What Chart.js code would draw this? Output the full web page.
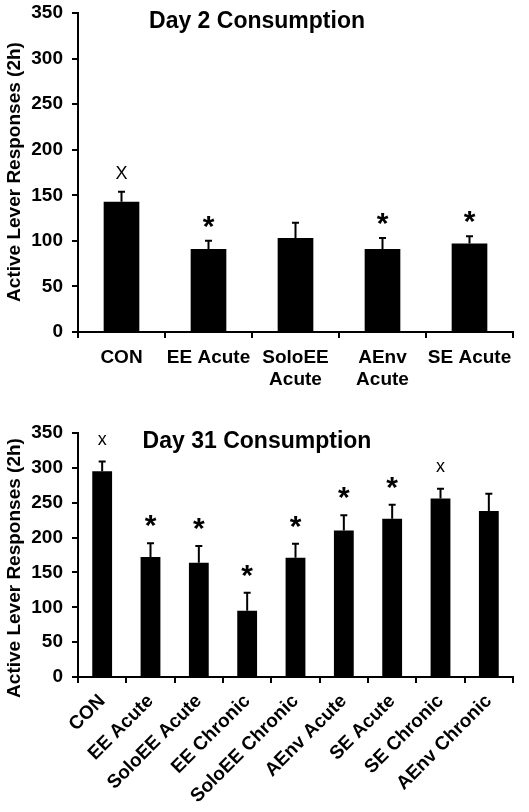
<!DOCTYPE html>
<html><head><meta charset="utf-8">
<script src="https://cdn.jsdelivr.net/npm/chart.js@4.4.0/dist/chart.umd.min.js"></script>
<style>
html,body{margin:0;padding:0;background:#fff;}
body{width:529px;height:812px;position:relative;overflow:hidden;}
#c1{position:absolute;left:0;top:0;}
#c2{position:absolute;left:0;top:390px;}
</style></head><body>
<canvas id="c1" width="529" height="390" style="width:529px;height:390px"></canvas>
<canvas id="c2" width="529" height="422" style="width:529px;height:422px"></canvas>
<script>
// ---- Data ----
const yTickValues = [0, 50, 100, 150, 200, 250, 300, 350];
const yAxisTitle = 'Active Lever Responses (2h)';

const day2Title = 'Day 2 Consumption';
const day2Categories = [['CON'], ['EE Acute'], ['SoloEE', 'Acute'], ['AEnv', 'Acute'], ['SE Acute']];
const day2Means = [143, 91, 103, 91, 97];
const day2Errors = [11, 9, 17, 12, 8];
const day2Marks = ['X', '*', '', '*', '*'];

const day31Title = 'Day 31 Consumption';
const day31Categories = ['CON', 'EE Acute', 'SoloEE Acute', 'EE Chronic', 'SoloEE Chronic', 'AEnv Acute', 'SE Acute', 'SE Chronic', 'AEnv Chronic'];
const day31Means = [295, 172, 164, 95, 171, 210, 227, 256, 238];
const day31Errors = [14, 20, 24, 26, 20, 22, 20, 14, 25];
const day31Marks = ['x', '*', '*', '*', '*', '*', '*', 'x', ''];

// ---- Rendering ----
const FAMILY = '"Liberation Sans", Arial, Helvetica, sans-serif';
Chart.defaults.font.family = FAMILY;
Chart.defaults.color = '#000';

function annotPlugin(means, errs, marks, opts) {
  return {
    id: 'annot',
    afterDatasetsDraw(chart) {
      const ctx = chart.ctx, xs = chart.scales.x, ys = chart.scales.y;
      ctx.save();
      ctx.strokeStyle = '#000';
      ctx.fillStyle = '#000';
      ctx.lineWidth = 2;
      means.forEach((m, i) => {
        const px = xs.getPixelForValue(i);
        const y0 = ys.getPixelForValue(m);
        const y1 = ys.getPixelForValue(m + errs[i]);
        ctx.beginPath();
        ctx.moveTo(px, y0); ctx.lineTo(px, y1);
        ctx.moveTo(px - 3.5, y1); ctx.lineTo(px + 3.5, y1);
        ctx.stroke();
        const mk = marks[i];
        if (mk) {
          ctx.font = mk === '*' ? 'bold 30px ' + FAMILY : (opts.xFont + FAMILY);
          ctx.textAlign = 'center';
          ctx.textBaseline = 'alphabetic';
          const mt = ctx.measureText(mk);
          const cy = y1 - opts.markOffset;
          const base = cy + (mt.actualBoundingBoxAscent - mt.actualBoundingBoxDescent) / 2;
          ctx.fillText(mk, px, base);
        }
      });
      // chart title
      ctx.font = 'bold 23px ' + FAMILY;
      ctx.textAlign = 'center';
      ctx.textBaseline = 'middle';
      ctx.fillText(opts.title, opts.titleX, opts.titleY);
      // y axis title
      ctx.translate(15, opts.yTitleY);
      ctx.rotate(-Math.PI / 2);
      ctx.font = 'bold 19px ' + FAMILY;
      ctx.fillText(yAxisTitle, 0, 0);
      ctx.restore();
    }
  };
}

function makeChart(id, labels, means, errs, marks, opts) {
  const gridCfg = { display: true, drawOnChartArea: false, drawTicks: true, tickLength: 6, lineWidth: 2, color: '#000' };
  return new Chart(document.getElementById(id), {
    type: 'bar',
    data: { labels: labels, datasets: [{ data: means, backgroundColor: '#000', borderWidth: 0, barPercentage: 0.41, categoryPercentage: 1 }] },
    options: {
      responsive: false, animation: false, devicePixelRatio: 1,
      layout: { padding: { left: 0, right: 16, top: opts.top, bottom: 0 } },
      plugins: { legend: { display: false }, tooltip: { enabled: false }, title: { display: false } },
      scales: {
        x: {
          grid: Object.assign({ offset: true }, gridCfg),
          border: { display: true, color: '#000', width: 2 },
          ticks: { color: '#000', font: { size: 19, weight: 'bold' }, padding: opts.xPad, autoSkip: false, minRotation: opts.rot, maxRotation: opts.rot },
          afterFit: s => { s.height = opts.xh; s.paddingLeft = 0; s.paddingRight = 0; }
        },
        y: {
          min: 0, max: 350,
          afterBuildTicks: s => { s.ticks = yTickValues.map(v => ({ value: v })); },
          grid: gridCfg,
          border: { display: true, color: '#000', width: 2 },
          ticks: { color: '#000', font: { size: 19, weight: 'bold' }, padding: 9 },
          afterFit: s => { s.width = 78; s.paddingTop = 0; s.paddingBottom = 0; }
        }
      }
    },
    plugins: [annotPlugin(means, errs, marks, opts)]
  });
}

makeChart('c1', day2Categories, day2Means, day2Errors, day2Marks,
  { top: 13, xh: 58, xPad: 8, rot: 0, title: day2Title, titleX: 257, titleY: 22, yTitleY: 172, markOffset: 19, xFont: '18px ' });
makeChart('c2', day31Categories, day31Means, day31Errors, day31Marks,
  { top: 43, xh: 135, xPad: 7, rot: 45, title: day31Title, titleX: 257, titleY: 52, yTitleY: 178, markOffset: 22, xFont: '18px ' });
</script>
</body></html>
